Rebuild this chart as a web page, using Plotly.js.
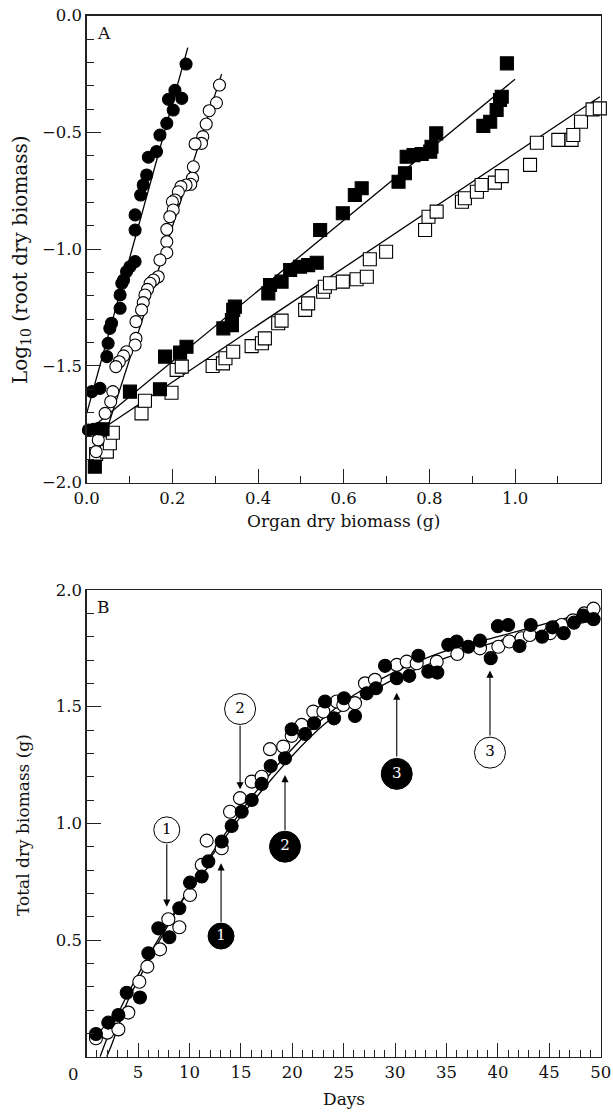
<!DOCTYPE html>
<html><head><meta charset="utf-8">
<script src="https://cdn.plot.ly/plotly-3.0.1.min.js"></script>
<style>html,body{margin:0;padding:0;background:#fff;}#chart{width:613px;height:1112px;}</style>
</head><body><div id="chart"></div>
<script>
// ---------- Panel A : log10 root dry biomass vs organ dry biomass ----------
const aFilledCircleX = [0.232,0.206,0.191,0.222,0.202,0.187,0.171,0.163,0.144,0.140,0.132,0.126,0.113,0.113,0.113,0.101,0.093,0.086,0.082,0.078,0.078,0.058,0.054,0.050,0.047,0.012,0.031,0.004,0.016,0.031];
const aFilledCircleY = [-0.207,-0.320,-0.358,-0.354,-0.404,-0.461,-0.511,-0.582,-0.606,-0.682,-0.725,-0.768,-0.853,-0.918,-1.053,-1.075,-1.096,-1.132,-1.146,-1.196,-1.253,-1.317,-1.339,-1.403,-1.460,-1.610,-1.596,-1.774,-1.771,-1.770];
const aOpenCircleX = [0.310,0.303,0.286,0.279,0.271,0.268,0.253,0.249,0.247,0.243,0.232,0.220,0.214,0.206,0.200,0.202,0.194,0.187,0.187,0.187,0.171,0.167,0.156,0.148,0.142,0.136,0.132,0.128,0.115,0.115,0.113,0.093,0.086,0.076,0.068,0.061,0.056,0.043,0.027,0.022];
const aOpenCircleY = [-0.297,-0.373,-0.407,-0.464,-0.518,-0.547,-0.549,-0.647,-0.696,-0.722,-0.725,-0.732,-0.754,-0.789,-0.797,-0.832,-0.861,-0.915,-0.968,-1.015,-1.046,-1.118,-1.132,-1.146,-1.172,-1.196,-1.229,-1.260,-1.310,-1.382,-1.410,-1.439,-1.457,-1.482,-1.503,-1.610,-1.653,-1.703,-1.817,-1.867];
const aFilledSquareX = [0.019,0.037,0.101,0.171,0.183,0.218,0.233,0.319,0.339,0.339,0.342,0.346,0.424,0.428,0.455,0.475,0.498,0.517,0.537,0.545,0.598,0.626,0.642,0.728,0.743,0.747,0.763,0.782,0.802,0.805,0.816,0.926,0.942,0.957,0.965,0.969,0.981];
const aFilledSquareY = [-1.931,-1.771,-1.610,-1.600,-1.460,-1.443,-1.418,-1.339,-1.325,-1.303,-1.260,-1.246,-1.189,-1.153,-1.139,-1.089,-1.075,-1.068,-1.058,-0.918,-0.846,-0.768,-0.739,-0.711,-0.675,-0.604,-0.597,-0.592,-0.582,-0.561,-0.504,-0.472,-0.454,-0.404,-0.361,-0.347,-0.204];
const aOpenSquareX = [0.022,0.047,0.054,0.061,0.128,0.136,0.198,0.210,0.222,0.294,0.318,0.324,0.342,0.385,0.409,0.416,0.447,0.455,0.510,0.517,0.552,0.556,0.568,0.598,0.630,0.654,0.661,0.699,0.790,0.798,0.817,0.876,0.883,0.911,0.922,0.953,0.969,1.035,1.051,1.101,1.132,1.136,1.154,1.181,1.198,1.214];
const aOpenSquareY = [-1.877,-1.867,-1.831,-1.786,-1.703,-1.649,-1.615,-1.517,-1.503,-1.500,-1.489,-1.467,-1.439,-1.415,-1.403,-1.382,-1.317,-1.306,-1.260,-1.232,-1.182,-1.161,-1.146,-1.139,-1.129,-1.118,-1.043,-1.011,-0.918,-0.861,-0.839,-0.797,-0.782,-0.754,-0.725,-0.715,-0.687,-0.639,-0.544,-0.532,-0.532,-0.511,-0.454,-0.401,-0.397,-0.368];
// fitted regression lines (end points)
const aFitFilledCircleX = [0.0, 0.236];
const aFitFilledCircleY = [-1.703, -0.137];
const aFitOpenCircleX = [0.030, 0.315];
const aFitOpenCircleY = [-1.870, -0.250];
const aFitFilledSquareX = [0.015, 1.000];
const aFitFilledSquareY = [-1.760, -0.272];
const aFitOpenSquareX = [0.015, 1.198];
const aFitOpenSquareY = [-1.796, -0.347];
// tick labels
const aXTickVals = [0, 0.2, 0.4, 0.6, 0.8, 1.0, 1.2];
const aXTickText = ['0.0', '0.2', '0.4', '0.6', '0.8', '1.0', '1.2'];
const aYTickVals = [-2, -1.5, -1, -0.5, 0];
const aYTickText = ['\u22122.0', '\u22121.5', '\u22121.0', '\u22120.5', '0.0'];

// ---------- Panel B : total dry biomass vs days ----------
const bFilledDays = [0.9,2.1,3.08,3.89,5.18,6.0,6.97,8.04,9.01,10.05,11.19,11.83,13.13,14.1,15.08,16.05,17.02,17.9,19.29,19.94,21.24,22.11,23.18,24.06,25.03,26.1,27.24,28.14,29.02,30.16,31.38,32.26,33.23,34.11,35.17,35.99,37.12,38.26,39.3,40.0,41.0,42.1,43.2,44.3,45.3,46.4,47.4,48.3,49.3,50.2];
const bFilledMass = [0.097,0.146,0.179,0.274,0.254,0.443,0.550,0.512,0.636,0.746,0.772,0.837,0.922,0.989,1.050,1.100,1.169,1.246,1.279,1.403,1.383,1.429,1.522,1.450,1.536,1.460,1.557,1.579,1.675,1.622,1.632,1.718,1.650,1.646,1.765,1.779,1.757,1.783,1.708,1.845,1.850,1.760,1.850,1.800,1.840,1.815,1.860,1.890,1.875,1.870];
const bOpenDays = [0.9,2.0,3.08,4.05,5.12,5.9,7.13,7.94,9.01,10.05,11.19,11.67,13.13,13.94,14.91,16.05,17.02,17.83,19.12,19.94,20.91,22.04,23.02,24.32,24.96,26.1,27.07,28.04,30.16,31.13,32.1,34.05,36.05,38.26,40.04,41.11,42.3,43.1,45.07,46.2,47.3,48.4,49.3,50.2];
const bOpenMass = [0.079,0.103,0.117,0.189,0.321,0.386,0.460,0.589,0.555,0.693,0.822,0.926,0.893,1.050,1.108,1.179,1.200,1.318,1.329,1.375,1.422,1.479,1.479,1.522,1.507,1.515,1.600,1.615,1.679,1.693,1.686,1.693,1.726,1.750,1.757,1.779,1.793,1.807,1.815,1.850,1.870,1.900,1.920,1.950];
// fitted growth curves
const bFitFilledDays = [1.3,2,3,4,6,8,10,12,15,18,20,23,26,30,35,40,45,50];
const bFitFilledMass = [0.0,0.08,0.18,0.27,0.43,0.58,0.72,0.85,1.03,1.19,1.29,1.42,1.52,1.62,1.71,1.78,1.83,1.875];
const bFitOpenDays = [1.95,2.5,3,4,6,8,10,12,15,18,20,23,26,30,35,40,45,50];
const bFitOpenMass = [0.0,0.06,0.12,0.24,0.41,0.57,0.72,0.86,1.05,1.22,1.32,1.45,1.55,1.65,1.74,1.80,1.86,1.92];
// circled stage markers with arrows
const openStageText = ['1','2','3'];
const openStageDay = [7.79, 14.92, 39.23];
const openStageMass = [0.972, 1.49, 1.303];
const openStageSize = [26, 31, 31];
const openArrowTail = [0.917, 1.425, 1.37];
const openArrowHead = [0.643, 1.146, 1.655];
const filledStageText = ['1','2','3'];
const filledStageDay = [13.07, 19.29, 30.16];
const filledStageMass = [0.517, 0.90, 1.212];
const filledStageSize = [26, 31, 31];
const filledArrowTail = [0.572, 0.965, 1.28];
const filledArrowHead = [0.829, 1.207, 1.56];
// tick labels
const bXTickVals = [5, 10, 15, 20, 25, 30, 35, 40, 45, 50];
const bXTickText = ['5', '10', '15', '20', '25', '30', '35', '40', '45', '50'];
const bYTickVals = [0.5, 1.0, 1.5, 2.0];
const bYTickText = ['0.5', '1.0', '1.5', '2.0'];

const FONT = 'DejaVu Serif';
const INK = '#111';

function line(x, y, xa, ya, shape) {
  return {x, y, xaxis: xa, yaxis: ya, type: 'scatter', mode: 'lines',
    line: {color: '#000', width: 1.3, shape: shape || 'linear'}, hoverinfo: 'skip', showlegend: false, cliponaxis: false};
}
function pts(x, y, xa, ya, symbol, fill, size) {
  return {x, y, xaxis: xa, yaxis: ya, type: 'scatter', mode: 'markers', showlegend: false, cliponaxis: false,
    marker: {symbol, size, color: fill, opacity: 1, line: {color: '#000', width: 1.1}}};
}
function stage(x, y, text, size, fill, ink) {
  return {x, y, xaxis: 'x2', yaxis: 'y2', type: 'scatter', mode: 'markers+text',
   text, textposition: 'middle center', showlegend: false, cliponaxis: false,
   textfont: {family: FONT, size: 15, color: ink},
   marker: {symbol: 'circle', size, color: fill, opacity: 1, line: {color: '#000', width: 1}}};
}

const traces = [
  line(aFitFilledCircleX, aFitFilledCircleY, 'x', 'y'),
  line(aFitOpenCircleX, aFitOpenCircleY, 'x', 'y'),
  line(aFitFilledSquareX, aFitFilledSquareY, 'x', 'y'),
  line(aFitOpenSquareX, aFitOpenSquareY, 'x', 'y'),
  pts(aOpenSquareX, aOpenSquareY, 'x', 'y', 'square', '#fff', 13),
  pts(aFilledSquareX, aFilledSquareY, 'x', 'y', 'square', '#000', 13),
  pts(aOpenCircleX, aOpenCircleY, 'x', 'y', 'circle', '#fff', 12),
  pts(aFilledCircleX, aFilledCircleY, 'x', 'y', 'circle', '#000', 12),

  line(bFitFilledDays, bFitFilledMass, 'x2', 'y2', 'spline'),
  line(bFitOpenDays, bFitOpenMass, 'x2', 'y2', 'spline'),
  pts(bOpenDays, bOpenMass, 'x2', 'y2', 'circle', '#fff', 13),
  pts(bFilledDays, bFilledMass, 'x2', 'y2', 'circle', '#000', 13),
  stage(openStageDay, openStageMass, openStageText, openStageSize, '#fff', '#000'),
  stage(filledStageDay, filledStageMass, filledStageText, filledStageSize, '#000', '#fff')
];

const minorStyle = {ticks: 'inside', ticklen: 7, tickwidth: 1, tickcolor: '#222', showgrid: false, tickmode: 'linear', tick0: 0};
const axisBase = {
  showgrid: false, zeroline: false, showline: true, mirror: true,
  linecolor: '#222', linewidth: 1.3,
  ticks: 'inside', ticklen: 14, tickwidth: 1, tickcolor: '#222', tickmode: 'array',
  tickfont: {family: FONT, size: 16.5, color: INK}
};
const W = 613, H = 1112;
const px = v => v / W, py = v => (H - v) / H;

const arrows = [];
openStageDay.forEach((d, i) => arrows.push({x: d, y: openArrowHead[i], ax: d, ay: openArrowTail[i]}));
filledStageDay.forEach((d, i) => arrows.push({x: d, y: filledArrowHead[i], ax: d, ay: filledArrowTail[i]}));

const annotations = arrows.map(a => ({
  xref: 'x2', yref: 'y2', axref: 'x2', ayref: 'y2', x: a.x, y: a.y, ax: a.ax, ay: a.ay,
  text: '', showarrow: true, arrowhead: 2, arrowsize: 1.3, arrowwidth: 1.1, arrowcolor: '#000',
  standoff: 0, startstandoff: 0
})).concat([
  {xref: 'paper', yref: 'paper', x: px(103.5), y: py(33), text: 'A', showarrow: false,
   font: {family: FONT, size: 17, color: INK}, xanchor: 'center', yanchor: 'middle'},
  {xref: 'paper', yref: 'paper', x: px(103.5), y: py(607), text: 'B', showarrow: false,
   font: {family: FONT, size: 17, color: INK}, xanchor: 'center', yanchor: 'middle'},
  {xref: 'paper', yref: 'paper', x: px(343.7), y: py(521), text: 'Organ dry biomass (g)', showarrow: false,
   font: {family: FONT, size: 17, color: INK}, xanchor: 'center', yanchor: 'middle'},
  {xref: 'paper', yref: 'paper', x: px(343.7), y: py(1099), text: 'Days', showarrow: false,
   font: {family: FONT, size: 17, color: INK}, xanchor: 'center', yanchor: 'middle'},
  {xref: 'paper', yref: 'paper', x: px(21), y: py(260), text: 'Log<sub>10</sub> (root dry biomass)', showarrow: false,
   textangle: -90, font: {family: FONT, size: 20, color: INK}, xanchor: 'center', yanchor: 'middle'},
  {xref: 'paper', yref: 'paper', x: px(23), y: py(825), text: 'Total dry biomass (g)', showarrow: false,
   textangle: -90, font: {family: FONT, size: 17, color: INK}, xanchor: 'center', yanchor: 'middle'},
  {xref: 'paper', yref: 'paper', x: px(73), y: py(1074), text: '0', showarrow: false,
   font: {family: FONT, size: 16.5, color: INK}, xanchor: 'center', yanchor: 'middle'}
]);

const layout = {
  width: W, height: H,
  margin: {l: 0, r: 0, t: 0, b: 0},
  paper_bgcolor: '#fff', plot_bgcolor: '#fff',
  showlegend: false,
  xaxis: Object.assign({}, axisBase, {domain: [px(86.7), px(600.7)], anchor: 'y', range: [0, 1.2],
    tickvals: aXTickVals, ticktext: aXTickText, minor: Object.assign({dtick: 0.1}, minorStyle)}),
  yaxis: Object.assign({}, axisBase, {domain: [py(482.7), py(15.7)], anchor: 'x', range: [-2, 0],
    tickvals: aYTickVals, ticktext: aYTickText, minor: Object.assign({dtick: 0.1}, minorStyle)}),
  xaxis2: Object.assign({}, axisBase, {domain: [px(86.7), px(600.7)], anchor: 'y2', range: [0, 50],
    tickvals: bXTickVals, ticktext: bXTickText, minor: Object.assign({dtick: 1}, minorStyle)}),
  yaxis2: Object.assign({}, axisBase, {domain: [py(1056.7), py(590)], anchor: 'x2', range: [0, 2],
    tickvals: bYTickVals, ticktext: bYTickText, minor: Object.assign({dtick: 0.1}, minorStyle)}),
  annotations
};

Plotly.newPlot('chart', traces, layout, {staticPlot: true, displayModeBar: false});
</script></body></html>
